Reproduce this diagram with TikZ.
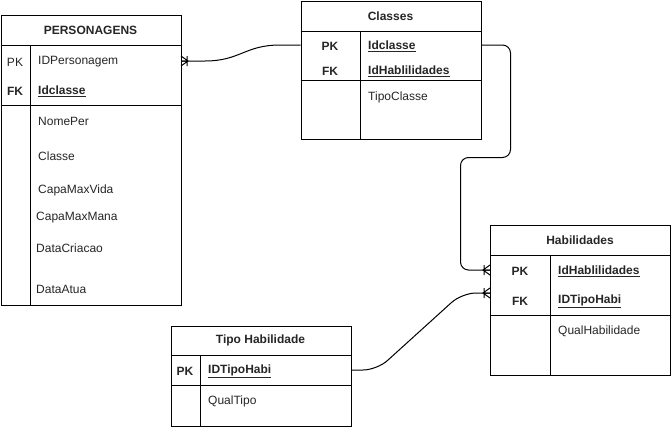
\documentclass[tikz,border=0pt]{standalone}
\usepackage{fontspec}
\setmainfont{Liberation Sans}
\begin{document}
\begin{tikzpicture}[x=1pt,y=-1pt,
  tbl/.style={draw=black,line width=1pt,fill=white,anchor=north west,inner sep=0pt,minimum width=#1},
  rule/.style={line width=1pt},
  head/.style={font=\fontsize{12}{14}\selectfont\bfseries,inner sep=0pt,text=black!85},
  key/.style={font=\fontsize{12}{14}\selectfont\bfseries,inner sep=0pt,text=black!85,yshift=-1pt},
  keyreg/.style={font=\fontsize{12}{14}\selectfont,inner sep=0pt,text=black!85,yshift=-1pt},
  attr/.style={font=\fontsize{12}{14}\selectfont,anchor=west,inner sep=0pt,text=black!85,yshift=-1pt},
  pkattr/.style={attr,font=\fontsize{12}{14}\selectfont\bfseries},
  link/.style={line width=1pt,rounded corners=#1},
  link/.default=0pt,
  pics/crow/.style={code={
    \draw[line width=1pt] (0,-5) -- (-7,0) -- (0,5) (0,0) -- (-7,0) (-6,-5) -- (-6,5);}}
]
\useasboundingbox (0,0) rectangle (671,426);
\newcommand{\ul}[1]{\underline{#1}}

% ---- PERSONAGENS ----
\node[tbl=180.5pt,minimum height=290pt] (pers) at (0.5,15) {};
\draw[rule] (0.5,45) -- (181,45) (0.5,105) -- (181,105) (30,45) -- (30,305);
\node[head] (persh) at (90.5,30) {PERSONAGENS};
\node[keyreg] (perspk) at (15,61) {PK};
\node[key] (persfk) at (15,90) {FK};
\node[attr] (persa1) at (38,61) {IDPersonagem};
\node[pkattr] (persa2) at (38,90) {\ul{Idclasse}};
\node[attr] (persa3) at (38,120) {NomePer};
\node[attr] (persa4) at (38,155) {Classe};
\node[attr] (persa5) at (38,189) {CapaMaxVida};
\node[attr] (persa6) at (36,217) {CapaMaxMana};
\node[attr] (persa7) at (36,247) {DataCriacao};
\node[attr] (persa8) at (36,288) {DataAtua};

% ---- Classes ----
\node[tbl=180pt,minimum height=138.5pt] (cls) at (300.5,0.5) {};
\draw[rule] (300.5,31) -- (480.5,31) (300.5,80) -- (480.5,80) (360.5,31) -- (360.5,139);
\node[head] (clsh) at (390.5,16) {Classes};
\node[key] (clspk) at (330,45) {PK};
\node[key] (clsfk) at (330,70) {FK};
\node[pkattr] (clsa1) at (368,45) {\ul{Idclasse}};
\node[pkattr] (clsa2) at (368,70) {\ul{IdHablilidades}};
\node[attr] (clsa3) at (368,96) {TipoClasse};

% ---- Habilidades ----
\node[tbl=180pt,minimum height=150pt] (hab) at (490,225) {};
\draw[rule] (490,255) -- (670,255) (490,315) -- (670,315) (550,255) -- (550,375);
\node[head] (habh) at (580,240) {Habilidades};
\node[key] (habpk) at (520,270) {PK};
\node[key] (habfk) at (520,300) {FK};
\node[pkattr] (haba1) at (558,270) {\ul{IdHablilidades}};
\node[pkattr] (haba2) at (558,300) {\ul{IDTipoHabi}};
\node[attr] (haba3) at (558,330) {QualHabilidade};

% ---- Tipo Habilidade ----
\node[tbl=180pt,minimum height=100pt] (tipo) at (170.5,325.5) {};
\draw[rule] (170.5,355) -- (350.5,355) (170.5,385.5) -- (350.5,385.5) (200.5,355) -- (200.5,425.5);
\node[head] (tipoh) at (260.5,340) {Tipo Habilidade};
\node[key] (tipopk) at (185,370) {PK};
\node[pkattr] (tipoa1) at (208,370) {\ul{IDTipoHabi}};
\node[attr] (tipoa2) at (208,400) {QualTipo};

% ---- relationships ----
\coordinate (c1a) at (181,61);
\coordinate (c1b) at (cls.west |- 0,45);
\draw[link] (c1a) -- ++(24,0) .. controls (240,61) and (245,45) .. (280,45) -- (c1b);
\pic[xscale=-1] at (c1a) {crow};

\coordinate (c2a) at (cls.east |- 0,45);
\coordinate (c2b) at (hab.west |- 0,270);
\draw[link=8pt] (c2a) -| (510.5,157.5) -| (460.5,270) -- (c2b);
\pic at (c2b) {crow};

\coordinate (c3a) at (tipo.east |- 0,370);
\coordinate (c3b) at (hab.west |- 0,293);
\draw[link=14pt] (c3a) -- (377,370) -- (462,293) -- (c3b);
\pic at (c3b) {crow};
\end{tikzpicture}
\end{document}
